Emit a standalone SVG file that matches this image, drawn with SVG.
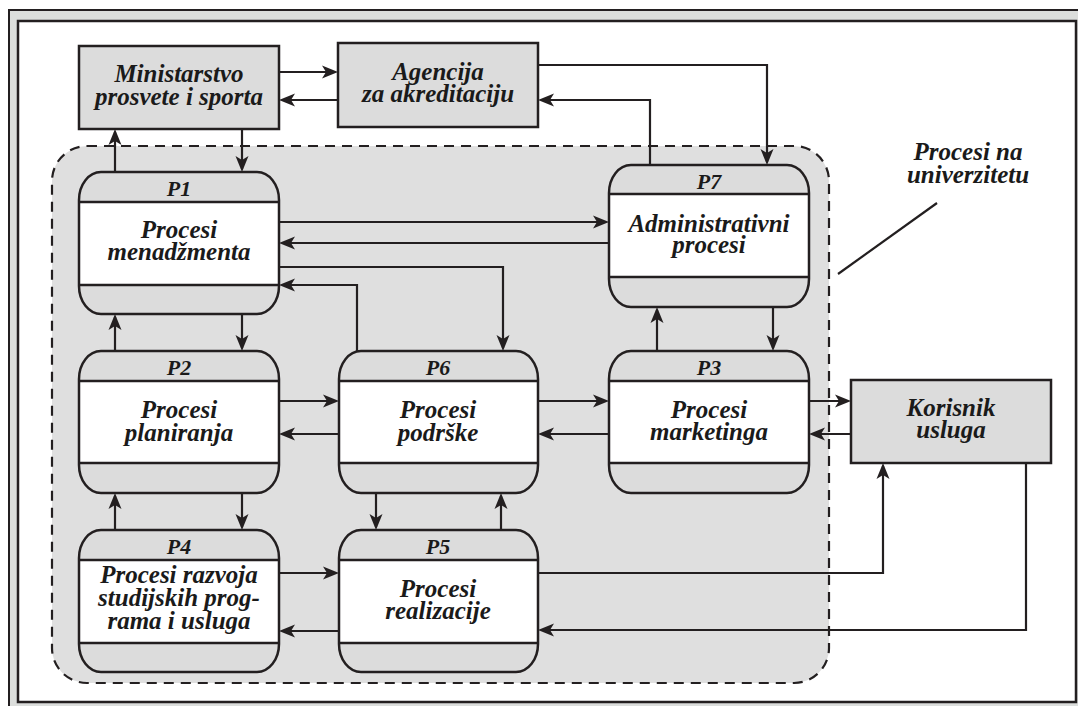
<svg xmlns="http://www.w3.org/2000/svg" width="1078" height="706" viewBox="0 0 1078 706">
<defs>
<style>
.t{font-family:"Liberation Serif","Times New Roman",serif;font-weight:bold;font-style:italic;font-size:25px;fill:#1a1a1a;text-anchor:middle}
.h{font-size:22px}
.box{fill:#dcdcdc;stroke:#231f20;stroke-width:2.5}
.pbg{fill:#dcdcdc}
.pw{fill:#ffffff}
.po{fill:none;stroke:#231f20;stroke-width:2.5}
.pl{stroke:#231f20;stroke-width:2.5}
.c{fill:none;stroke:#231f20;stroke-width:2.2;marker-end:url(#ah)}
</style>
<marker id="ah" markerUnits="userSpaceOnUse" markerWidth="16" markerHeight="14" refX="13" refY="7" orient="auto">
<path d="M0,0.5 L16,7 L0,13.5 L4,7 z" fill="#231f20"/>
</marker>
</defs>

<!-- frame -->
<rect x="9" y="10" width="1090" height="720" fill="#dcdedc" stroke="#231f20" stroke-width="2"/>
<rect x="18" y="21" width="1058" height="681" fill="#ffffff" stroke="#231f20" stroke-width="2.5"/>

<!-- university region -->
<g id="region">
<rect x="52" y="146" width="777" height="537" rx="35" ry="35" fill="#dfdfdf" stroke="#231f20" stroke-width="2.2" stroke-dasharray="10 7"/>
</g>

<!-- external nodes -->
<g id="ministarstvo">
<rect class="box" x="79" y="46" width="200" height="83"/>
<text class="t" x="179" y="82">Ministarstvo</text>
<text class="t" x="179" y="105">prosvete i sporta</text>
</g>
<g id="agencija">
<rect class="box" x="338" y="43" width="200" height="84"/>
<text class="t" x="438" y="80">Agencija</text>
<text class="t" x="438" y="102">za akreditaciju</text>
</g>
<g id="korisnik">
<rect class="box" x="851" y="380" width="200" height="83"/>
<text class="t" x="951" y="416">Korisnik</text>
<text class="t" x="951" y="438">usluga</text>
</g>

<!-- process nodes -->
<g id="p1">
<rect class="pbg" x="79" y="172" width="200" height="142" rx="22" ry="28"/>
<rect class="pw" x="79" y="202" width="200" height="83"/>
<line class="pl" x1="79" y1="202" x2="279" y2="202"/>
<line class="pl" x1="79" y1="285" x2="279" y2="285"/>
<rect class="po" x="79" y="172" width="200" height="142" rx="22" ry="28"/>
<text class="t h" x="179" y="196">P1</text>
<text class="t" x="179" y="238">Procesi</text>
<text class="t" x="179" y="260">menadžmenta</text>
</g>
<g id="p7">
<rect class="pbg" x="609" y="165" width="200" height="142" rx="22" ry="28"/>
<rect class="pw" x="609" y="194" width="200" height="83"/>
<line class="pl" x1="609" y1="194" x2="809" y2="194"/>
<line class="pl" x1="609" y1="277" x2="809" y2="277"/>
<rect class="po" x="609" y="165" width="200" height="142" rx="22" ry="28"/>
<text class="t h" x="709" y="189">P7</text>
<text class="t" x="709" y="232">Administrativni</text>
<text class="t" x="709" y="253">procesi</text>
</g>
<g id="p2">
<rect class="pbg" x="79" y="351" width="200" height="142" rx="22" ry="28"/>
<rect class="pw" x="79" y="381" width="200" height="82"/>
<line class="pl" x1="79" y1="381" x2="279" y2="381"/>
<line class="pl" x1="79" y1="463" x2="279" y2="463"/>
<rect class="po" x="79" y="351" width="200" height="142" rx="22" ry="28"/>
<text class="t h" x="179" y="375">P2</text>
<text class="t" x="179" y="418">Procesi</text>
<text class="t" x="179" y="441">planiranja</text>
</g>
<g id="p6">
<rect class="pbg" x="339" y="351" width="199" height="142" rx="22" ry="28"/>
<rect class="pw" x="339" y="381" width="199" height="82"/>
<line class="pl" x1="339" y1="381" x2="538" y2="381"/>
<line class="pl" x1="339" y1="463" x2="538" y2="463"/>
<rect class="po" x="339" y="351" width="199" height="142" rx="22" ry="28"/>
<text class="t h" x="438" y="375">P6</text>
<text class="t" x="438" y="418">Procesi</text>
<text class="t" x="438" y="441">podrške</text>
</g>
<g id="p3">
<rect class="pbg" x="609" y="351" width="200" height="142" rx="22" ry="28"/>
<rect class="pw" x="609" y="381" width="200" height="82"/>
<line class="pl" x1="609" y1="381" x2="809" y2="381"/>
<line class="pl" x1="609" y1="463" x2="809" y2="463"/>
<rect class="po" x="609" y="351" width="200" height="142" rx="22" ry="28"/>
<text class="t h" x="709" y="375">P3</text>
<text class="t" x="709" y="418">Procesi</text>
<text class="t" x="709" y="440">marketinga</text>
</g>
<g id="p4">
<rect class="pbg" x="79" y="530" width="200" height="142" rx="22" ry="28"/>
<rect class="pw" x="79" y="560" width="200" height="83"/>
<line class="pl" x1="79" y1="560" x2="279" y2="560"/>
<line class="pl" x1="79" y1="643" x2="279" y2="643"/>
<rect class="po" x="79" y="530" width="200" height="142" rx="22" ry="28"/>
<text class="t h" x="179" y="554">P4</text>
<text class="t" x="179" y="583">Procesi razvoja</text>
<text class="t" x="179" y="606">studijskih prog-</text>
<text class="t" x="179" y="629">rama i usluga</text>
</g>
<g id="p5">
<rect class="pbg" x="339" y="530" width="199" height="142" rx="22" ry="28"/>
<rect class="pw" x="339" y="560" width="199" height="83"/>
<line class="pl" x1="339" y1="560" x2="538" y2="560"/>
<line class="pl" x1="339" y1="643" x2="538" y2="643"/>
<rect class="po" x="339" y="530" width="199" height="142" rx="22" ry="28"/>
<text class="t h" x="438" y="554">P5</text>
<text class="t" x="438" y="597">Procesi</text>
<text class="t" x="438" y="619">realizacije</text>
</g>

<!-- region label -->
<g id="label">
<text class="t" x="968" y="160">Procesi na</text>
<text class="t" x="968" y="183">univerzitetu</text>
<line x1="838" y1="274" x2="937" y2="203" stroke="#231f20" stroke-width="2.2"/>
</g>

<!-- connectors -->
<g id="connectors">
<path class="c" d="M279,72 H335"/>
<path class="c" d="M338,100 H282"/>
<path class="c" d="M538,65 H767 V162"/>
<path class="c" d="M650,165 V100 H541"/>
<path class="c" d="M115,172 V132"/>
<path class="c" d="M242,129 V169"/>
<path class="c" d="M279,222 H606"/>
<path class="c" d="M609,243 H282"/>
<path class="c" d="M279,267 H503 V348"/>
<path class="c" d="M357,351 V285 H282"/>
<path class="c" d="M115,351 V317"/>
<path class="c" d="M242,314 V348"/>
<path class="c" d="M657,351 V310"/>
<path class="c" d="M773,307 V348"/>
<path class="c" d="M279,401 H336"/>
<path class="c" d="M339,434 H282"/>
<path class="c" d="M538,401 H606"/>
<path class="c" d="M609,434 H541"/>
<path class="c" d="M809,401 H848"/>
<path class="c" d="M851,434 H812"/>
<path class="c" d="M115,530 V496"/>
<path class="c" d="M242,493 V527"/>
<path class="c" d="M376,493 V527"/>
<path class="c" d="M501,530 V496"/>
<path class="c" d="M279,573 H336"/>
<path class="c" d="M339,631 H282"/>
<path class="c" d="M538,573 H883 V466"/>
<path class="c" d="M1026,463 V630 H541"/>
</g>
</svg>
